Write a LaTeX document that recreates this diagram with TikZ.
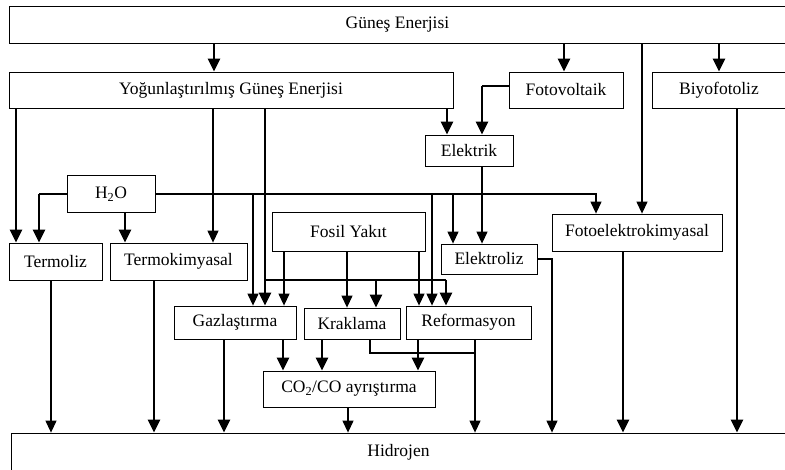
\documentclass[tikz,border=0pt]{standalone}
\usepackage{fontspec}
\setmainfont{Liberation Serif}
\usetikzlibrary{arrows.meta}
\begin{document}
\begin{tikzpicture}[x=1pt,y=-1pt,
  box/.style={draw, line width=0.8pt, inner sep=0pt, anchor=center,
    font=\fontsize{17.5}{20}\selectfont},
  thinline/.style={line width=1.2pt},
  arr/.style={line width=1.2pt, -{Triangle[width=11pt,length=12pt]}},
  arrthk/.style={line width=2.3pt, -{Triangle[width=12pt,length=13pt]}}]
\useasboundingbox (0,0) rectangle (785,470);

% boxes
\node[box, minimum width=777pt, minimum height=37pt] (gunes) at (397.5,24.5) {Güneş Enerjisi};
\node[box, minimum width=444pt, minimum height=36pt] (yogun) at (231,90) {Yoğunlaştırılmış Güneş Enerjisi};
\node[box, minimum width=114pt, minimum height=36pt] (fotov) at (566,90) {Fotovoltaik};
\node[box, minimum width=134pt, minimum height=36pt] (biyo) at (719,90) {Biyofotoliz};
\node[box, minimum width=88pt, minimum height=31pt] (elektrik) at (469,150.5) {Elektrik};
\node[box, minimum width=88pt, minimum height=37pt] (h2o) at (111,194) {H\textsubscript{2}O};
\node[box, minimum width=153pt, minimum height=39pt] (fosil) at (348.5,231.5) {Fosil Yakıt};
\node[box, minimum width=93pt, minimum height=37pt] (termoliz) at (55.5,261.5) {Termoliz};
\node[box, minimum width=137pt, minimum height=37pt] (termok) at (178.5,261.5) {Termokimyasal};
\node[box, minimum width=96pt, minimum height=30pt] (elektroliz) at (489,259) {Elektroliz};
\node[box, minimum width=170pt, minimum height=37pt] (fotoelek) at (637,232.5) {Fotoelektrokimyasal};
\node[box, minimum width=122pt, minimum height=33pt] (gaz) at (235,322.5) {Gazlaştırma};
\node[box, minimum width=96pt, minimum height=31pt] (krak) at (352,323.5) {Kraklama};
\node[box, minimum width=125pt, minimum height=33pt] (reform) at (468.5,322.5) {Reformasyon};
\node[box, minimum width=172pt, minimum height=36pt] (co2) at (349,389) {CO\textsubscript{2}/CO ayrıştırma};
\node[box, minimum width=775pt, minimum height=38pt] (hidro) at (398.5,452) {Hidrojen};

% solar energy branches
\draw[arrthk] (gunes.south -| 214,0) -- (yogun.north -| 214,0);
\draw[arrthk] (gunes.south -| 564,0) -- (fotov.north -| 564,0);
\draw[arrthk] (gunes.south -| 719,0) -- (biyo.north -| 719,0);
\draw[arr] (gunes.south -| 642,0) -- (fotoelek.north -| 642,0);

% concentrated solar energy
\draw[arrthk] (yogun.south -| 16,0) -- (termoliz.north -| 16,0);
\draw[arr] (yogun.south -| 213,0) -- (termok.north -| 213,0);
\draw[arrthk] (yogun.south -| 265,0) -- (gaz.north -| 265,0);
\draw[arrthk] (yogun.south -| 447,0) -- (elektrik.north -| 447,0);
\coordinate (ybr) at (265,280);
\draw[thinline] (ybr) -- (ybr -| 446,0);
\draw[arrthk] (ybr -| 376,0) -- (krak.north -| 376,0);
\draw[arrthk] (ybr -| 446,0) -- (reform.north -| 446,0);

% photovoltaic -> electricity -> electrolysis
\coordinate (pvc) at (482,86);
\draw[thinline] (fotov.west |- pvc) -- (pvc);
\draw[arrthk] (pvc) -- (elektrik.north -| pvc);
\draw[arr] (elektrik.south -| pvc) -- (elektroliz.north -| pvc);

% water
\draw[thinline] (h2o.west) -- (h2o.west -| 39,0);
\draw[arrthk] (h2o.west -| 39,0) -- (termoliz.north -| 39,0);
\draw[arrthk] (h2o.south -| 125,0) -- (termok.north -| 125,0);
\draw[arr] (h2o.east) -| (fotoelek.north -| 596,0);
\draw[arr] (h2o.east -| 253,0) -- (gaz.north -| 253,0);
\draw[arr] (h2o.east -| 432,0) -- (reform.north -| 432,0);
\draw[arr] (h2o.east -| 453,0) -- (elektroliz.north -| 453,0);

% fossil fuel
\draw[arr] (fosil.south -| 284,0) -- (gaz.north -| 284,0);
\draw[arr] (fosil.south -| 347,0) -- (krak.north -| 347,0);
\draw[arr] (fosil.south -| 419,0) -- (reform.north -| 419,0);

% to CO2/CO separation
\draw[arrthk] (gaz.south -| 283,0) -- (co2.north -| 283,0);
\draw[arrthk] (krak.south -| 322,0) -- (co2.north -| 322,0);
\draw[arrthk] (reform.south -| 418,0) -- (co2.north -| 418,0);

% to hydrogen
\draw[arr] (termoliz.south -| 51,0) -- (hidro.north -| 51,0);
\draw[arrthk] (termok.south -| 154,0) -- (hidro.north -| 154,0);
\draw[arrthk] (gaz.south -| 224,0) -- (hidro.north -| 224,0);
\draw[arr] (co2.south -| 348,0) -- (hidro.north -| 348,0);
\coordinate (kj) at (475,353);
\draw[thinline] (krak.south -| 370,0) |- (kj);
\draw[arr] (reform.south -| 475,0) -- (hidro.north -| 475,0);
\draw[arr] (elektroliz.east) -| (hidro.north -| 552,0);
\draw[arrthk] (fotoelek.south -| 623,0) -- (hidro.north -| 623,0);
\draw[arrthk] (biyo.south -| 737,0) -- (hidro.north -| 737,0);
\end{tikzpicture}
\end{document}
